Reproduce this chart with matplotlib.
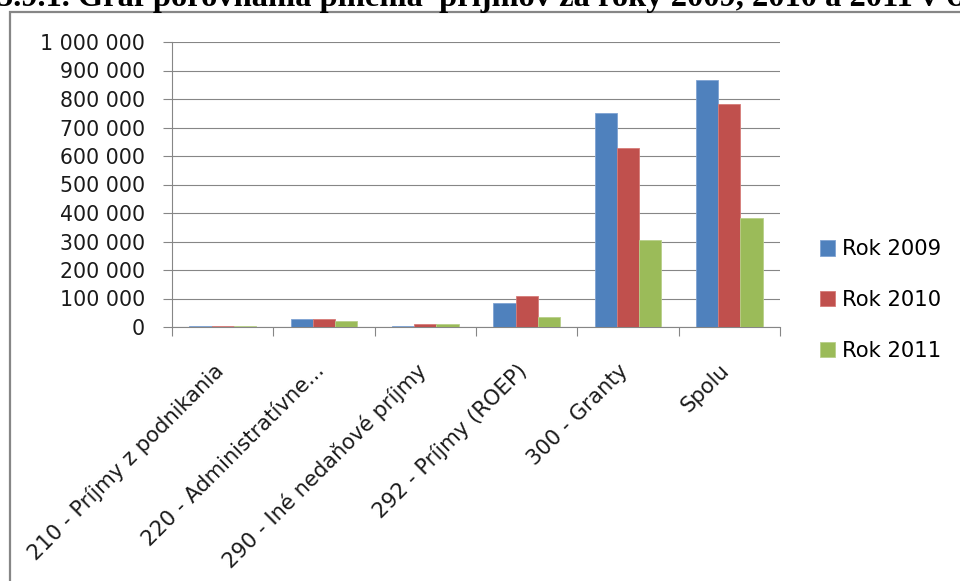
import matplotlib
matplotlib.use("Agg")
import matplotlib.pyplot as plt
from matplotlib.patches import Rectangle
from matplotlib.ticker import FuncFormatter, MultipleLocator
from matplotlib.transforms import ScaledTranslation
import numpy as np

# values (EUR)
categories = ["210 - Príjmy z podnikania", "220 - Administratívne...",
              "290 - Iné nedaňové príjmy", "292 - Príjmy (ROEP)",
              "300 - Granty", "Spolu"]
rok_2009 = [5000, 27000, 5000, 85000, 751000, 868000]
rok_2010 = [5000, 27000, 9500, 109000, 629000, 784000]
rok_2011 = [4000, 22000, 9500, 36000, 307000, 382000]
series_names = ["Rok 2009", "Rok 2010", "Rok 2011"]
title = "5.9.1. Graf porovnania plnenia  príjmov za roky 2009, 2010 a 2011 v €"

colors = ["#4F81BD", "#C0504D", "#9BBB59"]
edges = ["#7FA3D3", "#D67B78", "#B8D08A"]
grid_c = "#868686"

W, H = 960, 581
fig = plt.figure(figsize=(W / 100, H / 100), dpi=100)
ax = fig.add_axes([172 / W, 1 - 327 / H, 608 / W, 285 / H])

x = np.arange(len(categories)) + 0.5
bw = 0.22
for i, (vals, name) in enumerate(zip([rok_2009, rok_2010, rok_2011], series_names)):
    ax.bar(x + (i - 1) * bw, vals, bw, color=colors[i], edgecolor=edges[i],
           linewidth=0.6, label=name, zorder=3)

ax.set_xlim(0, len(categories))
ax.set_ylim(0, 1000000)
ax.yaxis.set_major_locator(MultipleLocator(100000))
ax.yaxis.set_major_formatter(FuncFormatter(lambda v, p: f"{int(v):,}".replace(",", " ")))
ax.grid(axis="y", color=grid_c, linewidth=0.8, zorder=0)
ax.set_axisbelow(True)

for s in ["top", "right"]:
    ax.spines[s].set_visible(False)
for s in ["left", "bottom"]:
    ax.spines[s].set_color(grid_c)
    ax.spines[s].set_linewidth(0.8)

ax.tick_params(axis="y", length=6.5, width=0.8, color=grid_c, pad=13,
               labelsize=14.8, labelcolor="#1a1a1a")
ax.set_xticks(x)
ax.set_xticklabels(categories, rotation=45, ha="right", va="top",
                   rotation_mode="anchor", fontsize=15.2, color="#1a1a1a")
ax.set_xticks(np.arange(len(categories) + 1), minor=True)
ax.tick_params(axis="x", which="major", length=0, pad=24)
ax.tick_params(axis="x", which="minor", length=6.5, width=0.8, color=grid_c)
shift = ScaledTranslation(-10 / 100, 0, fig.dpi_scale_trans)
for lab in ax.get_xticklabels():
    lab.set_transform(lab.get_transform() + shift)

ax.legend(loc="center left", bbox_to_anchor=(820 / W, 1 - 300 / H),
          bbox_transform=fig.transFigure, frameon=False, fontsize=15.2,
          handlelength=0.72, handleheight=0.72, handletextpad=0.3,
          labelspacing=1.45, borderpad=0, borderaxespad=0)

# outer frame of the embedded chart (cut by the page on right and bottom)
fig.patches.append(Rectangle((10 / W, -0.1), 2, 1 - 12 / H + 0.1,
                             transform=fig.transFigure, fill=False,
                             edgecolor=grid_c, linewidth=1.6, clip_on=False))

fig.text(-3 / W, 1 - 6 / H, title, family="Liberation Serif", weight="bold",
         fontsize=23.4, va="baseline", ha="left")

fig.savefig("out.png", dpi=100)
